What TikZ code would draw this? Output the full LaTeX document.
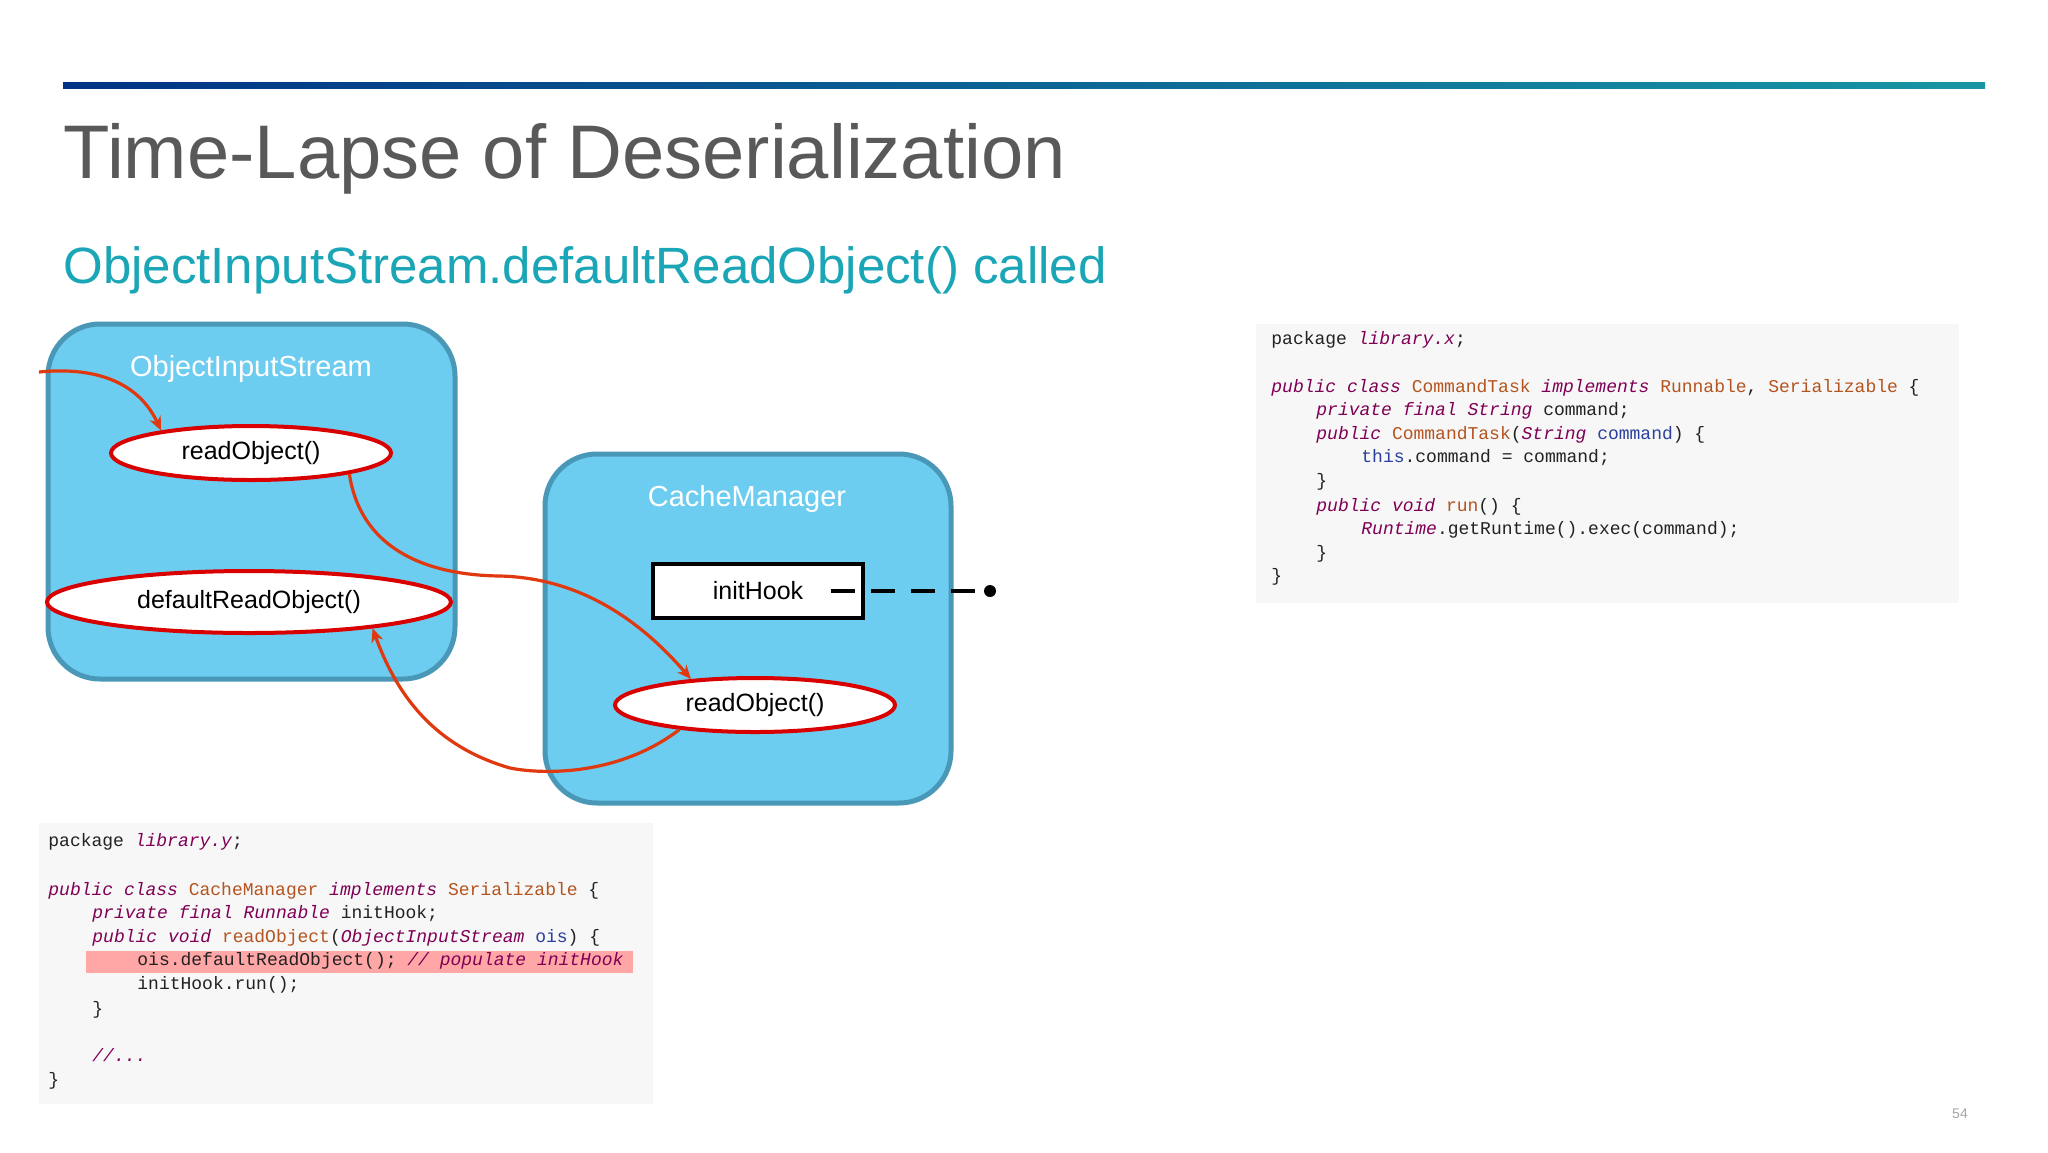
\documentclass[tikz,border=0pt]{standalone}
\usepackage{fontspec}
\setmainfont{Liberation Sans}
\newfontfamily\codefont{Liberation Mono}
\usetikzlibrary{arrows.meta,shapes.geometric}
\definecolor{kwc}{HTML}{7F0055}
\definecolor{tyc}{HTML}{B4541F}
\definecolor{blc}{HTML}{2A3F9F}
\definecolor{txc}{HTML}{222222}
\definecolor{boxfill}{HTML}{6DCDF0}
\definecolor{boxline}{HTML}{4A98B8}
\definecolor{arr}{HTML}{E0380F}
\definecolor{teal}{HTML}{1AA6B6}
\newcommand{\kwd}[1]{{\color{kwc}\itshape #1}}
\newcommand{\typ}[1]{{\color{tyc}#1}}
\newcommand{\blu}[1]{{\color{blc}#1}}
\tikzset{
 cls/.style={draw=boxline,line width=2.5pt,fill=boxfill,rounded corners=26pt},
 oval/.style={ellipse,draw=red!85!black,line width=2pt,fill=white,font=\fontsize{12.5}{14}\selectfont,inner sep=0pt},
 lbl/.style={text=white,font=\fontsize{14.5}{16}\selectfont},
 code/.style={anchor=base west,inner sep=0pt,text=txc,font=\codefont\fontsize{9}{10}\selectfont},
 flow/.style={draw=arr,line width=1.6pt,-{Stealth[length=7pt,width=6pt]}},
}
\begin{document}
\begin{tikzpicture}[x=0.5pt,y=-0.5pt]
\useasboundingbox[fill=white] (0,0) rectangle (2048,1152);
\shade[left color=blue!40!black!80!cyan, right color=teal!90!black] (63,82) rectangle (1985,88);
\node[anchor=west,text=black!65,font=\fontsize{38}{42}\selectfont,inner sep=0] (title) at (63,159) {Time-Lapse of Deserialization};
\node[anchor=west,text=teal,font=\fontsize{25.5}{28}\selectfont,inner sep=0] (sub) at (63,270) {ObjectInputStream.defaultReadObject() called};
% boxes
\draw[cls] (48,324) rectangle (455,679);
\node[lbl] (oislbl) at (251,369) {ObjectInputStream};
\draw[cls] (545,454) rectangle (951,803);
\node[lbl] (cmlbl) at (747,499) {CacheManager};
\node[oval,minimum width=140pt,minimum height=27pt] (ro1) at (251,453) {readObject()};
\node[oval,minimum width=202pt,minimum height=31pt] (dro) at (249,602) {defaultReadObject()};
\node[oval,minimum width=140pt,minimum height=27pt] (ro2) at (755,705) {readObject()};
\node[draw=black,line width=2pt,fill=white,minimum width=105pt,minimum height=27pt,inner sep=0,font=\fontsize{12.5}{14}\selectfont] (hook) at (758,591) {initHook};
\coordinate (dot) at (990,591);
\draw[line width=2pt,dashed,dash pattern=on 12pt off 8pt] (831,591) -- (dot);
\fill (dot) circle (6);
% arrows
\coordinate (in) at (39,372);
\draw[flow] (in) .. controls (100,366) and (140,385) .. (ro1.166);
\draw[flow] (ro1.-12) .. controls (360,545) and (420,575) .. (500,576) .. controls (580,578) and (640,620) .. (ro2.158);
\draw[flow] (ro2.198) .. controls (620,775) and (545,775) .. (510,768) .. controls (430,745) and (395,690) .. (dro.-12);
% right code
\fill[black!3] (1256,324) rectangle (1959,603);
\node[code] (r1) at (1271,344) {package \kwd{library.x};};
\node[code] (r2) at (1271,392) {\kwd{public class} \typ{CommandTask} \kwd{implements} \typ{Runnable}, \typ{Serializable} \{};
\node[code] (r3) at (1316,415) {\kwd{private final String} command;};
\node[code] (r4) at (1316,439) {\kwd{public} \typ{CommandTask}(\kwd{String} \blu{command}) \{};
\node[code] (r5) at (1361,462) {\blu{this}.command = command;};
\node[code] (r6) at (1316,486) {\}};
\node[code] (r7) at (1316,511) {\kwd{public void} \typ{run}() \{};
\node[code] (r8) at (1361,534) {\kwd{Runtime}.getRuntime().exec(command);};
\node[code] (r9) at (1316,558) {\}};
\node[code] (r10) at (1271,581) {\}};
% left code
\fill[black!3] (39,823) rectangle (653,1104);
\fill[red!35] (86,951) rectangle (633,973);
\node[code] (l1) at (48,846) {package \kwd{library.y};};
\node[code] (l2) at (48,895) {\kwd{public class} \typ{CacheManager} \kwd{implements} \typ{Serializable} \{};
\node[code] (l3) at (92,918) {\kwd{private final Runnable} initHook;};
\node[code] (l4) at (92,942) {\kwd{public void} \typ{readObject}(\kwd{ObjectInputStream} \blu{ois}) \{};
\node[code] (l5) at (137,965) {ois.defaultReadObject(); \kwd{// populate initHook}};
\node[code] (l6) at (137,989) {initHook.run();};
\node[code] (l7) at (92,1014) {\}};
\node[code] (l8) at (92,1061) {\kwd{//...}};
\node[code] (l9) at (48,1085) {\}};
\node[text=black!35,font=\fontsize{7}{8}\selectfont] (pg) at (1960,1114) {54};
\end{tikzpicture}
\end{document}
